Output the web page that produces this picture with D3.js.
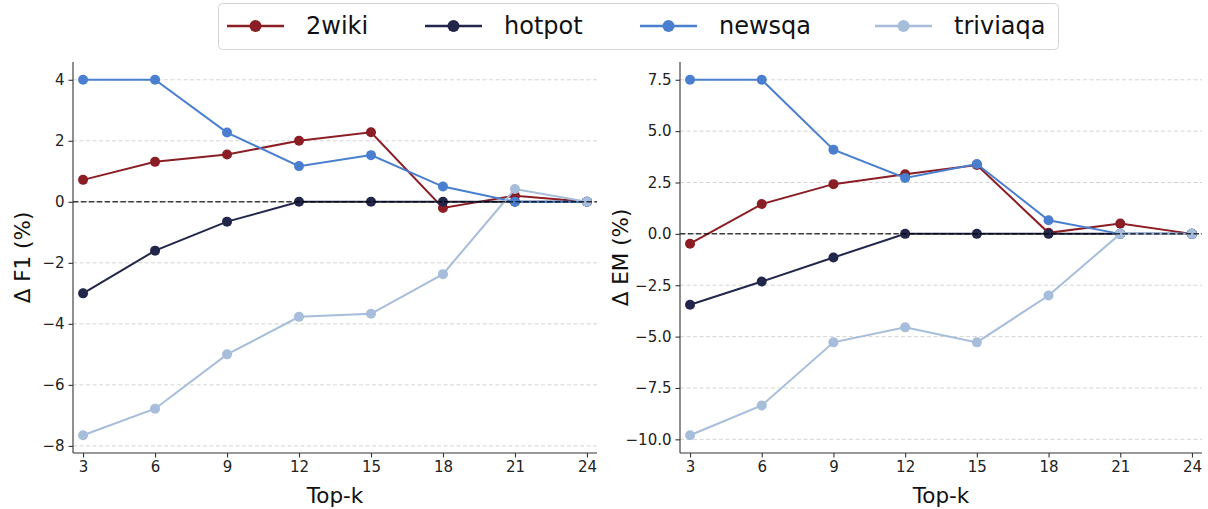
<!DOCTYPE html>
<html>
<head>
<meta charset="utf-8">
<script src="https://cdn.jsdelivr.net/npm/d3@7"></script>
<style>
  html, body { margin: 0; padding: 0; background: #fff; }
  svg { display: block; font-family: "DejaVu Sans", sans-serif; }
</style>
</head>
<body>
<svg id="chart" width="1208" height="509"></svg>
<script>
// Top-k retrieval depth on the x axis
const topK = [3, 6, 9, 12, 15, 18, 21, 24];
const datasetNames = ["2wiki", "hotpot", "newsqa", "triviaqa"];
const seriesColors = ["#8b1e24", "#22264a", "#4a7fd0", "#a6bddb"];

// Δ F1 (%) per dataset
const f1_2wiki    = [0.72, 1.31, 1.55, 2.0, 2.28, -0.2, 0.2, 0.0];
const f1_hotpot   = [-3.0, -1.6, -0.65, 0.0, 0.0, 0.0, 0.0, 0.0];
const f1_newsqa   = [4.0, 4.0, 2.27, 1.17, 1.53, 0.5, 0.0, 0.0];
const f1_triviaqa = [-7.65, -6.78, -5.0, -3.77, -3.67, -2.37, 0.42, 0.0];

// Δ EM (%) per dataset
const em_2wiki    = [-0.48, 1.45, 2.42, 2.9, 3.35, 0.05, 0.5, 0.0];
const em_hotpot   = [-3.45, -2.32, -1.15, 0.0, 0.0, 0.0, 0.0, 0.0];
const em_newsqa   = [7.5, 7.5, 4.1, 2.72, 3.4, 0.66, 0.0, 0.0];
const em_triviaqa = [-9.8, -8.35, -5.28, -4.55, -5.28, -3.0, 0.0, 0.0];

// Tick values
const f1Ticks = [-8, -6, -4, -2, 0, 2, 4];
const emTicks = [-10, -7.5, -5, -2.5, 0, 2.5, 5, 7.5];

const svg = d3.select("#chart");
const fmtMinus = s => s.replace("-", "\u2212");

function drawPanel(opts) {
  const { left, right, top, bottom, series, ticks, tickFmt, yLabel } = opts;
  const all = series.flat();
  const lo = d3.min(all), hi = d3.max(all);
  const pad = (hi - lo) * 0.05;
  const xPad = (d3.max(topK) - d3.min(topK)) * 0.02;

  const x = d3.scaleLinear()
    .domain([d3.min(topK) - xPad, d3.max(topK) + xPad])
    .range([left, right]);
  const y = d3.scaleLinear()
    .domain([lo - pad, hi + pad])
    .range([bottom, top]);

  const g = svg.append("g");

  // horizontal grid
  g.append("g").selectAll("line").data(ticks).join("line")
    .attr("x1", left).attr("x2", right)
    .attr("y1", d => y(d)).attr("y2", d => y(d))
    .attr("stroke", "#b0b0b0").attr("stroke-opacity", 0.6)
    .attr("stroke-width", 0.9).attr("stroke-dasharray", "4,2.5");

  // series lines + markers
  series.forEach((vals, i) => {
    const pts = topK.map((k, j) => [k, vals[j]]);
    const line = d3.line().x(d => x(d[0])).y(d => y(d[1]));
    g.append("path").datum(pts)
      .attr("d", line).attr("fill", "none")
      .attr("stroke", seriesColors[i]).attr("stroke-width", 2);
    g.append("g").selectAll("circle").data(pts).join("circle")
      .attr("cx", d => x(d[0])).attr("cy", d => y(d[1]))
      .attr("r", 5).attr("fill", seriesColors[i]);
  });

  // zero reference line
  g.append("line")
    .attr("x1", left).attr("x2", right)
    .attr("y1", y(0)).attr("y2", y(0))
    .attr("stroke", "#000").attr("stroke-opacity", 0.75)
    .attr("stroke-width", 1.5).attr("stroke-dasharray", "5.5,2.4");

  // axes
  const xAxis = d3.axisBottom(x).tickValues(topK).tickSize(4.5).tickPadding(4)
    .tickFormat(d3.format("d"));
  const yAxis = d3.axisLeft(y).tickValues(ticks).tickSize(4.5).tickPadding(4)
    .tickFormat(d => fmtMinus(tickFmt(d)));

  const gx = g.append("g").attr("transform", `translate(0,${bottom})`).call(xAxis);
  const gy = g.append("g").attr("transform", `translate(${left},0)`).call(yAxis);
  [gx, gy].forEach(a => {
    a.select(".domain").attr("stroke", "#333").attr("stroke-width", 1.1);
    a.selectAll(".tick line").attr("stroke", "#333").attr("stroke-width", 1.1);
    a.selectAll(".tick text").attr("fill", "#222").attr("font-size", 15)
      .attr("font-family", "DejaVu Sans, sans-serif");
  });
  gx.select(".domain").attr("d", `M${left},0H${right}`);
  gy.select(".domain").attr("d", `M0,${bottom}V${top}`);

  // axis titles
  g.append("text")
    .attr("x", (left + right) / 2).attr("y", bottom + 50)
    .attr("text-anchor", "middle").attr("font-size", 21.5).attr("fill", "#111")
    .text("Top-k");
  g.append("text")
    .attr("transform", `translate(${opts.yLabelX},${(top + bottom) / 2}) rotate(-90)`)
    .attr("text-anchor", "middle").attr("font-size", 21.5).attr("fill", "#111")
    .text(yLabel);
}

drawPanel({
  left: 73, right: 597, top: 62, bottom: 453,
  series: [f1_2wiki, f1_hotpot, f1_newsqa, f1_triviaqa],
  ticks: f1Ticks, tickFmt: d3.format("d"),
  yLabel: "\u0394 F1 (%)", yLabelX: 30
});

drawPanel({
  left: 680, right: 1202, top: 62, bottom: 453,
  series: [em_2wiki, em_hotpot, em_newsqa, em_triviaqa],
  ticks: emTicks, tickFmt: d3.format(".1f"),
  yLabel: "\u0394 EM (%)", yLabelX: 628
});

// legend
const legend = svg.append("g");
legend.append("rect")
  .attr("x", 218.5).attr("y", 3.5).attr("width", 840).attr("height", 46)
  .attr("rx", 4).attr("fill", "#fff").attr("fill-opacity", 0.8)
  .attr("stroke", "#d4d4d4").attr("stroke-width", 1);
const entryX = [227, 425, 640, 875];
datasetNames.forEach((name, i) => {
  const e = legend.append("g").attr("transform", `translate(${entryX[i]},26)`);
  e.append("line").attr("x1", 0).attr("x2", 57).attr("y1", 0).attr("y2", 0)
    .attr("stroke", seriesColors[i]).attr("stroke-width", 2.4);
  e.append("circle").attr("cx", 28.5).attr("cy", 0).attr("r", 6).attr("fill", seriesColors[i]);
  e.append("text").attr("x", 79).attr("y", 0).attr("dy", "0.35em")
    .attr("font-size", 24).attr("fill", "#111").text(name);
});
</script>
</body>
</html>
